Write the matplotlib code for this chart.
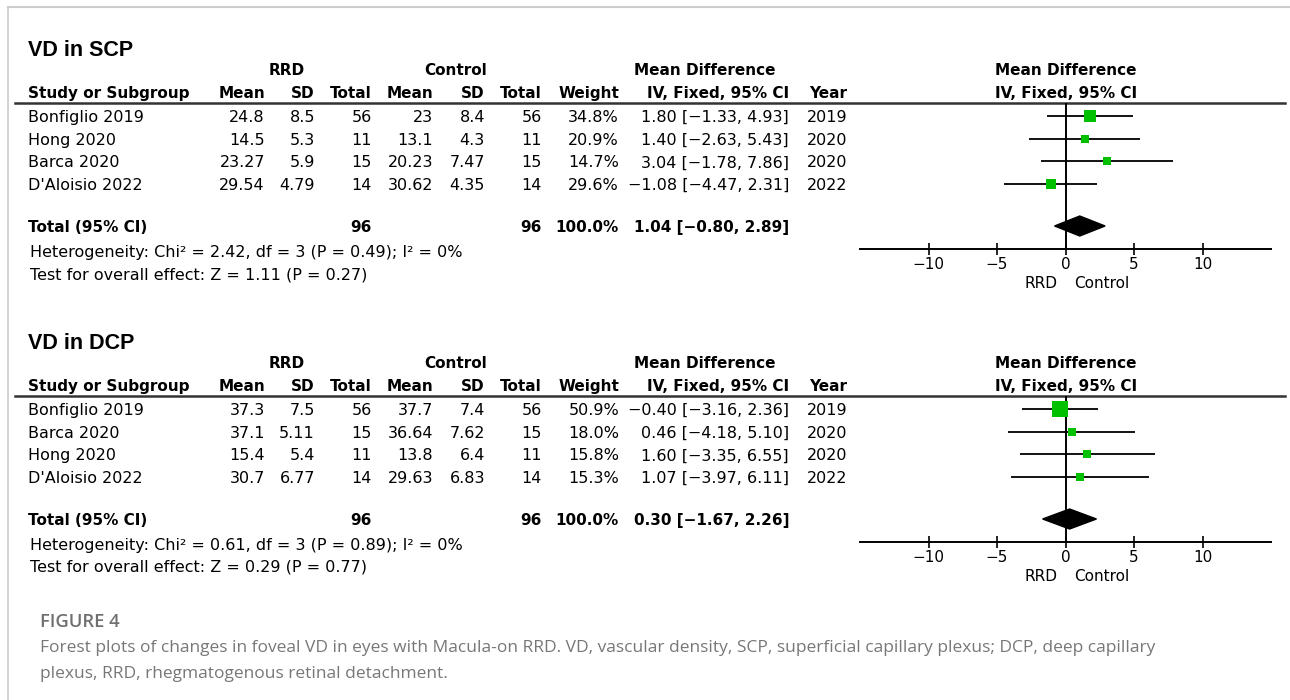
import matplotlib
matplotlib.use("Agg")
import matplotlib.pyplot as plt
from matplotlib.patches import Polygon

# --- VD in SCP ---
scp_study = ["Bonfiglio 2019", "Hong 2020", "Barca 2020", "D'Aloisio 2022"]
scp_rrd_mean = [24.8, 14.5, 23.27, 29.54]
scp_rrd_sd = [8.5, 5.3, 5.9, 4.79]
scp_rrd_n = [56, 11, 15, 14]
scp_ctl_mean = [23, 13.1, 20.23, 30.62]
scp_ctl_sd = [8.4, 4.3, 7.47, 4.35]
scp_ctl_n = [56, 11, 15, 14]
scp_weight = [34.8, 20.9, 14.7, 29.6]
scp_md = [1.80, 1.40, 3.04, -1.08]
scp_lo = [-1.33, -2.63, -1.78, -4.47]
scp_hi = [4.93, 5.43, 7.86, 2.31]
scp_year = [2019, 2020, 2020, 2022]
scp_total = (1.04, -0.80, 2.89)
scp_het = "Heterogeneity: Chi² = 2.42, df = 3 (P = 0.49); I² = 0%"
scp_test = "Test for overall effect: Z = 1.11 (P = 0.27)"

# --- VD in DCP ---
dcp_study = ["Bonfiglio 2019", "Barca 2020", "Hong 2020", "D'Aloisio 2022"]
dcp_rrd_mean = [37.3, 37.1, 15.4, 30.7]
dcp_rrd_sd = [7.5, 5.11, 5.4, 6.77]
dcp_rrd_n = [56, 15, 11, 14]
dcp_ctl_mean = [37.7, 36.64, 13.8, 29.63]
dcp_ctl_sd = [7.4, 7.62, 6.4, 6.83]
dcp_ctl_n = [56, 15, 11, 14]
dcp_weight = [50.9, 18.0, 15.8, 15.3]
dcp_md = [-0.40, 0.46, 1.60, 1.07]
dcp_lo = [-3.16, -4.18, -3.35, -3.97]
dcp_hi = [2.36, 5.10, 6.55, 6.11]
dcp_year = [2019, 2020, 2020, 2022]
dcp_total = (0.30, -1.67, 2.26)
dcp_het = "Heterogeneity: Chi² = 0.61, df = 3 (P = 0.89); I² = 0%"
dcp_test = "Test for overall effect: Z = 0.29 (P = 0.77)"

ticks = [-10, -5, 0, 5, 10]
caption_head = "FIGURE 4"
caption_lines = [
    "Forest plots of changes in foveal VD in eyes with Macula-on RRD. VD, vascular density, SCP, superficial capillary plexus; DCP, deep capillary",
    "plexus, RRD, rhegmatogenous retinal detachment.",
]

W, H = 1290, 700
FS = 11.5      # regular table text
FSB = 11       # bold table text
GREEN = "#00c000"

fig = plt.figure(figsize=(W / 100, H / 100), dpi=100)
ov = fig.add_axes([0, 0, 1, 1])
ov.set_xlim(0, W)
ov.set_ylim(H, 0)
ov.axis("off")

# light frame, top and left
ov.plot([8, 8], [7, H], color="#cccccc", lw=1.2)
ov.plot([8, W], [7, 7], color="#cccccc", lw=1.5)


def num(v):
    return f"{v:g}"


def ci(m, l, h):
    return f"{m:.2f} [{l:.2f}, {h:.2f}]".replace("-", "\u2212")


def txt(x, y, s, ha="right", bold=False):
    ov.text(x, y, s, ha=ha, va="center_baseline", fontsize=FSB if bold else FS,
            fontweight="bold" if bold else "normal", family="DejaVu Sans")


def panel(dy, title, study, rm, rs, rn, cm, cs, cn, wt, md, lo, hi, yr, total, het, test):
    ov.text(28, 48 + dy, title, ha="left", va="center_baseline", fontsize=15.5,
            fontweight="bold", family="Liberation Sans")
    txt(287, 69 + dy, "RRD", ha="center", bold=True)
    txt(456, 69 + dy, "Control", ha="center", bold=True)
    txt(705, 69 + dy, "Mean Difference", ha="center", bold=True)
    txt(1066, 69 + dy, "Mean Difference", ha="center", bold=True)
    hy = 92 + dy
    txt(28, hy, "Study or Subgroup", ha="left", bold=True)
    for x, s in [(265, "Mean"), (315, "SD"), (372, "Total"), (433, "Mean"),
                 (485, "SD"), (542, "Total"), (619, "Weight"),
                 (789, "IV, Fixed, 95% CI"), (847, "Year")]:
        txt(x, hy, s, bold=True)
    txt(1066, hy, "IV, Fixed, 95% CI", ha="center", bold=True)
    ov.plot([15, 1285], [103 + dy, 103 + dy], color="#333333", lw=1.8)

    rows = [116 + dy + 22.67 * i for i in range(len(study))]
    for i, y in enumerate(rows):
        txt(28, y, study[i], ha="left")
        txt(265, y, num(rm[i]))
        txt(315, y, num(rs[i]))
        txt(372, y, str(rn[i]))
        txt(433, y, num(cm[i]))
        txt(485, y, num(cs[i]))
        txt(542, y, str(cn[i]))
        txt(619, y, f"{wt[i]:.1f}%")
        txt(789, y, ci(md[i], lo[i], hi[i]))
        txt(847, y, str(yr[i]))

    ty = 226 + dy
    txt(28, ty, "Total (95% CI)", ha="left", bold=True)
    txt(372, ty, str(sum(rn)), bold=True)
    txt(542, ty, str(sum(cn)), bold=True)
    txt(619, ty, f"{sum(wt):.1f}%", bold=True)
    txt(789, ty, ci(*total), bold=True)
    txt(30, 251 + dy, het, ha="left")
    txt(30, 273 + dy, test, ha="left")

    # forest plot
    top, bot = 103 + dy, 249 + dy
    ax = fig.add_axes([860 / W, 1 - bot / H, (1271 - 860) / W, (bot - top) / H])
    ax.set_xlim(-15, 15)
    ax.set_ylim(bot, top)
    ax.patch.set_alpha(0)
    for sp in ["left", "right", "top"]:
        ax.spines[sp].set_visible(False)
    ax.spines["bottom"].set_linewidth(1.4)
    ax.set_yticks([])
    ax.set_xticks(ticks)
    ax.tick_params(axis="x", direction="inout", length=8.6, width=1.2,
                   pad=1.5, labelsize=11)
    ax.axvline(0, color="black", lw=1.4, zorder=2)
    ax.hlines(rows, lo, hi, color="black", lw=1.3, zorder=2)
    for i, y in enumerate(rows):
        side = (3.4 + 0.245 * wt[i]) * 0.72
        ax.plot(md[i], y, marker="s", markersize=side, color=GREEN,
                markeredgewidth=0, zorder=3)
    m, l, h = total
    ax.add_patch(Polygon([[l, ty], [m, ty - 10], [h, ty], [m, ty + 10]],
                         closed=True, color="black", zorder=3))
    ax.text(-0.6, 282 + dy, "RRD", ha="right", va="center_baseline",
            fontsize=11, transform=ax.transData, clip_on=False)
    ax.text(0.6, 282 + dy, "Control", ha="left", va="center_baseline",
            fontsize=11, transform=ax.transData, clip_on=False)


panel(0, "VD in SCP", scp_study, scp_rrd_mean, scp_rrd_sd, scp_rrd_n,
      scp_ctl_mean, scp_ctl_sd, scp_ctl_n, scp_weight, scp_md, scp_lo, scp_hi,
      scp_year, scp_total, scp_het, scp_test)
panel(293, "VD in DCP", dcp_study, dcp_rrd_mean, dcp_rrd_sd, dcp_rrd_n,
      dcp_ctl_mean, dcp_ctl_sd, dcp_ctl_n, dcp_weight, dcp_md, dcp_lo, dcp_hi,
      dcp_year, dcp_total, dcp_het, dcp_test)

# caption
ov.text(40, 620, caption_head, ha="left", va="center_baseline", fontsize=13.2,
        color="#6f6f6f", family="Open Sans", fontweight="semibold")
for k, line in enumerate(caption_lines):
    ov.text(40, 646 + 26 * k, line, ha="left", va="center_baseline",
            fontsize=12.55, color="#777777", family="Open Sans")

fig.savefig("out.png", dpi=100)
